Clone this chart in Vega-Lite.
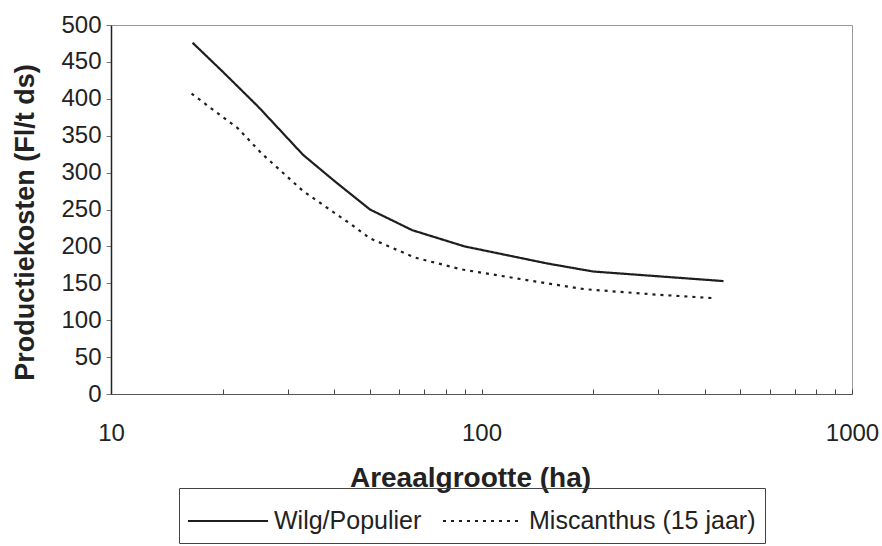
{
  "$schema": "https://vega.github.io/schema/vega-lite/v6.json",
  "width": 741,
  "height": 369,
  "autosize": {"type": "none"},
  "padding": {"left": 111, "top": 25, "right": 30, "bottom": 152},
  "background": "white",
  "config": {
    "font": "Liberation Sans",
    "view": {"stroke": "#999999", "strokeWidth": 1}
  },
  "data": {
    "values": [
      {"serie": "Wilg/Populier", "ha": 16.6, "kosten": 476},
      {"serie": "Wilg/Populier", "ha": 20, "kosten": 437},
      {"serie": "Wilg/Populier", "ha": 25, "kosten": 389},
      {"serie": "Wilg/Populier", "ha": 33, "kosten": 324},
      {"serie": "Wilg/Populier", "ha": 40, "kosten": 289},
      {"serie": "Wilg/Populier", "ha": 50, "kosten": 250},
      {"serie": "Wilg/Populier", "ha": 65, "kosten": 222},
      {"serie": "Wilg/Populier", "ha": 90, "kosten": 200},
      {"serie": "Wilg/Populier", "ha": 150, "kosten": 177},
      {"serie": "Wilg/Populier", "ha": 200, "kosten": 166},
      {"serie": "Wilg/Populier", "ha": 450, "kosten": 153},
      {"serie": "Miscanthus (15 jaar)", "ha": 16.5, "kosten": 407},
      {"serie": "Miscanthus (15 jaar)", "ha": 22, "kosten": 360},
      {"serie": "Miscanthus (15 jaar)", "ha": 25.5, "kosten": 326},
      {"serie": "Miscanthus (15 jaar)", "ha": 33, "kosten": 275},
      {"serie": "Miscanthus (15 jaar)", "ha": 45, "kosten": 228},
      {"serie": "Miscanthus (15 jaar)", "ha": 50, "kosten": 211},
      {"serie": "Miscanthus (15 jaar)", "ha": 66, "kosten": 185},
      {"serie": "Miscanthus (15 jaar)", "ha": 88, "kosten": 169},
      {"serie": "Miscanthus (15 jaar)", "ha": 110, "kosten": 161},
      {"serie": "Miscanthus (15 jaar)", "ha": 150, "kosten": 150},
      {"serie": "Miscanthus (15 jaar)", "ha": 190, "kosten": 142},
      {"serie": "Miscanthus (15 jaar)", "ha": 290, "kosten": 135},
      {"serie": "Miscanthus (15 jaar)", "ha": 420, "kosten": 130}
    ]
  },
  "mark": {"type": "line", "strokeWidth": 2.2},
  "encoding": {
    "x": {
      "field": "ha",
      "type": "quantitative",
      "scale": {"type": "log", "domain": [10, 1000]},
      "axis": {
        "values": [10, 20, 30, 40, 50, 60, 70, 80, 90, 100, 200, 300, 400, 500, 600, 700, 800, 900, 1000],
        "labelExpr": "indexof([10,100,1000], datum.value) >= 0 ? format(datum.value, 'd') : ''",
        "grid": false,
        "domainColor": "#555555",
        "tickColor": "#444444",
        "tickSize": -5,
        "labelPadding": 32,
        "labelFontSize": 24,
        "labelColor": "#222222",
        "labelFlush": false,
        "labelOverlap": false,
        "title": "Areaalgrootte (ha)",
        "titleFontSize": 28,
        "titleFontWeight": "bold",
        "titleColor": "#222222",
        "titleX": 359,
        "titleY": 92,
        "titleBaseline": "alphabetic"
      }
    },
    "y": {
      "field": "kosten",
      "type": "quantitative",
      "scale": {"domain": [0, 500]},
      "axis": {
        "values": [0, 50, 100, 150, 200, 250, 300, 350, 400, 450, 500],
        "grid": false,
        "domainColor": "#222222",
        "domainWidth": 1.5,
        "tickColor": "#777777",
        "tickSize": 5,
        "labelPadding": 5,
        "labelFontSize": 24,
        "labelColor": "#222222",
        "labelFlush": false,
        "title": "Productiekosten (Fl/t ds)",
        "titleFontSize": 27,
        "titleFontWeight": "bold",
        "titleColor": "#222222",
        "titleX": -86,
        "titleY": 197,
        "titleBaseline": "middle",
        "titleAlign": "center"
      }
    },
    "color": {
      "field": "serie",
      "type": "nominal",
      "scale": {"domain": ["Wilg/Populier", "Miscanthus (15 jaar)"], "range": ["#1e1e1e", "#1e1e1e"]},
      "legend": {
        "orient": "none",
        "legendX": 68,
        "legendY": 463,
        "direction": "horizontal",
        "title": " ",
        "titleFontSize": 6,
        "titlePadding": 2,
        "symbolType": "M-2.667,0H2.667",
        "symbolSize": 900,
        "symbolStrokeWidth": 2,
        "symbolOffset": 24,
        "labelFontSize": 25,
        "labelColor": "#222222",
        "labelOffset": 30,
        "labelLimit": 400,
        "columnPadding": 16,
        "padding": 9,
        "strokeColor": "#444444"
      }
    },
    "strokeDash": {
      "field": "serie",
      "type": "nominal",
      "scale": {"domain": ["Wilg/Populier", "Miscanthus (15 jaar)"], "range": [[1, 0], [3, 5]]},
      "legend": null
    }
  }
}
